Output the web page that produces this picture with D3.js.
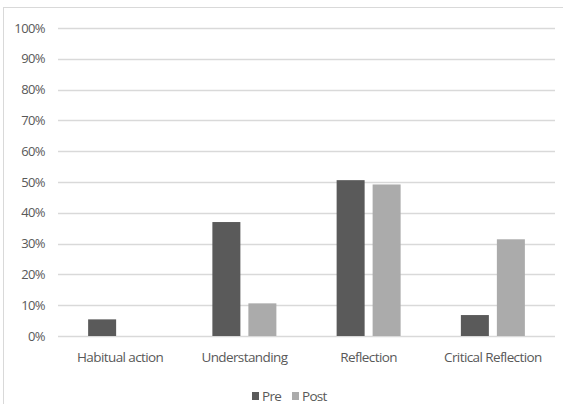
<!DOCTYPE html>
<html>
<head>
<meta charset="utf-8">
<script src="https://cdn.jsdelivr.net/npm/d3@7"></script>
<style>
  html, body { margin: 0; padding: 0; background: #fff; }
  svg { display: block; }
  text { font-family: "Open Sans", "Noto Sans", sans-serif; }
</style>
</head>
<body>
<div id="chart"></div>
<script>
// Reflection levels, share of responses before and after
const categories = ["Habitual action", "Understanding", "Reflection", "Critical Reflection"];
const seriesNames = ["Pre", "Post"];
const preValues = [0.054, 0.370, 0.506, 0.068];
const postValues = [0.0, 0.106, 0.492, 0.314];
const yTicks = [0, 0.1, 0.2, 0.3, 0.4, 0.5, 0.6, 0.7, 0.8, 0.9, 1.0];
const colors = { Pre: "#5a5a5a", Post: "#ababab" };

const W = 563, H = 404;
const plot = { left: 58, right: 555, top: 28, bottom: 336 };

const svg = d3.select("#chart").append("svg")
  .attr("width", W).attr("height", H);

// chart frame
svg.append("rect")
  .attr("x", 3.5).attr("y", 7.5)
  .attr("width", W + 10).attr("height", H + 10)
  .attr("fill", "#fff").attr("stroke", "#d9d9d9");

const y = d3.scaleLinear().domain([0, 1]).range([plot.bottom, plot.top]);
const x0 = d3.scaleBand().domain(categories).range([plot.left, plot.right]);
const x1 = d3.scaleBand().domain(seriesNames)
  .range([(x0.bandwidth() - 64) / 2, (x0.bandwidth() + 64) / 2])
  .paddingInner(0.222);

// gridlines
svg.append("g").selectAll("line").data(yTicks).join("line")
  .attr("x1", plot.left).attr("x2", plot.right)
  .attr("y1", d => Math.round(y(d)) + 0.5).attr("y2", d => Math.round(y(d)) + 0.5)
  .attr("stroke", "#d9d9d9").attr("stroke-width", 1.3);

// y axis labels
const yAxis = d3.axisLeft(y).tickValues(yTicks).tickFormat(d3.format(".0%")).tickSize(0).tickPadding(0);
const gy = svg.append("g").attr("transform", `translate(45,0)`).call(yAxis);
gy.select(".domain").remove();
gy.selectAll("text")
  .attr("fill", "#595959").attr("font-size", 13)
  .attr("font-family", "'Open Sans', sans-serif")
  .attr("letter-spacing", -0.6);

// bars
const rows = categories.map((c, i) => ({ cat: c, Pre: preValues[i], Post: postValues[i] }));
const groups = svg.append("g").selectAll("g").data(rows).join("g")
  .attr("transform", d => `translate(${x0(d.cat)},0)`);
groups.selectAll("rect")
  .data(d => seriesNames.map(s => ({ s, v: d[s] })).filter(e => e.v > 0))
  .join("rect")
  .attr("x", d => x1(d.s))
  .attr("width", x1.bandwidth())
  .attr("y", d => y(d.v))
  .attr("height", d => y(0) - y(d.v))
  .attr("fill", d => colors[d.s]);

// category axis labels
const xAxis = d3.axisBottom(x0).tickSize(0).tickPadding(0);
const gx = svg.append("g").attr("transform", `translate(0,${plot.bottom + 26})`).call(xAxis);
gx.select(".domain").remove();
gx.selectAll("text")
  .attr("dy", 0)
  .attr("fill", "#595959").attr("font-size", 13.5)
  .attr("font-family", "'Open Sans', sans-serif")
  .attr("letter-spacing", -0.6);

// legend
const legend = svg.append("g");
const legendX = { Pre: 252, Post: 292 };
seriesNames.forEach(s => {
  legend.append("rect")
    .attr("x", legendX[s]).attr("y", 392)
    .attr("width", 7).attr("height", 8)
    .attr("fill", colors[s]);
  legend.append("text")
    .attr("x", legendX[s] + 10).attr("y", 401)
    .attr("fill", "#595959").attr("font-size", 13.5)
    .attr("letter-spacing", -0.7)
    .text(s);
});
</script>
</body>
</html>
